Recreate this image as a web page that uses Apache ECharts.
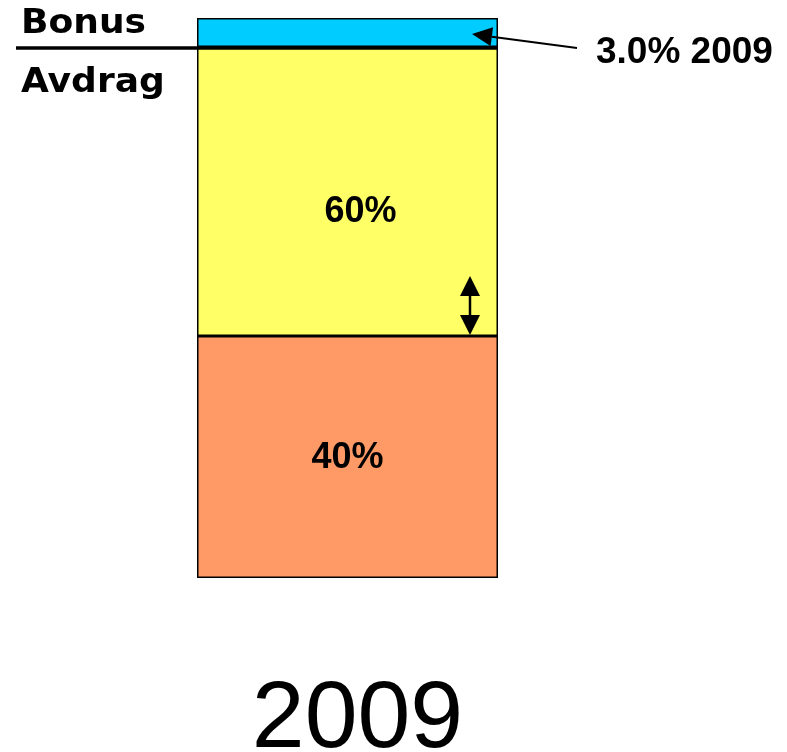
<!DOCTYPE html>
<html>
<head>
<meta charset="utf-8">
<script src="https://cdn.jsdelivr.net/npm/echarts@6/dist/echarts.min.js"></script>
<style>
html,body{margin:0;padding:0;background:#fff;}
#c{width:787px;height:752px;}
</style>
</head>
<body>
<div id="c"></div>
<script>
// Data (segment heights as drawn in the schematic bar, bottom to top)
const categories = ['2009'];
const segmentNames = ['Fast', 'Avdrag', 'Bonus'];
const segmentValues = [40, 47.8, 4.8];
const segmentLabels = ['40%', '60%', ''];
const segmentColors = ['#FF9966', '#FFFF66', '#00CCFF'];
const bonusNote = '3.0% 2009';
const leftLabelTop = 'Bonus';
const leftLabelBottom = 'Avdrag';

const total = segmentValues.reduce((a, b) => a + b, 0);
const gridLeft = 197, gridRight = 289, gridTop = 18, gridBottom = 174;

const chart = echarts.init(document.getElementById('c'), null, {renderer: 'canvas'});

const series = segmentValues.map((v, i) => ({
  name: segmentNames[i],
  type: 'bar',
  stack: 'total',
  barWidth: '100%',
  data: [v],
  itemStyle: {color: segmentColors[i], borderColor: '#000', borderWidth: 1.5},
  label: {
    show: segmentLabels[i] !== '',
    position: 'inside',
    formatter: () => segmentLabels[i],
    color: '#000',
    fontFamily: 'Liberation Sans, Arial, sans-serif',
    fontWeight: 'bold',
    fontSize: 36,
    offset: i === 1 ? [13, 21] : [0, 1]
  },
  emphasis: {disabled: true},
  animation: false
}));

chart.setOption({
  animation: false,
  grid: {left: gridLeft, right: gridRight, top: gridTop, bottom: gridBottom, containLabel: false, outerBoundsMode: 'none'},
  xAxis: {
    type: 'category',
    data: categories,
    axisLine: {show: false},
    axisTick: {show: false},
    axisLabel: {
      show: true,
      margin: 95,
      color: '#000',
      fontFamily: 'Liberation Sans, Arial, sans-serif',
      fontSize: 95,
      padding: [0, 0, 0, 20]
    }
  },
  yAxis: {type: 'value', min: 0, max: total, show: false, splitLine: {show: false}},
  series: series
});

// Annotations positioned from the axis scale
const barRight = 787 - gridRight;
const yBonusBase = chart.convertToPixel({yAxisIndex: 0}, segmentValues[0] + segmentValues[1]);
const yBonusMid = chart.convertToPixel({yAxisIndex: 0}, segmentValues[0] + segmentValues[1] + segmentValues[2] / 2);
const ySplit = chart.convertToPixel({yAxisIndex: 0}, segmentValues[0]);

// arrow from note to bonus segment
const tail = [barRight + 79, yBonusBase + 1];
const tip = [barRight - 26, yBonusMid + 1.5];
const dx = tip[0] - tail[0], dy = tip[1] - tail[1];
const len = Math.sqrt(dx * dx + dy * dy);
const ux = dx / len, uy = dy / len;
const headLen = 20, headHalf = 9.5;
const base = [tip[0] - ux * headLen, tip[1] - uy * headLen];
const head = [tip, [base[0] - uy * headHalf, base[1] + ux * headHalf], [base[0] + uy * headHalf, base[1] - ux * headHalf]];

// double arrow at split
const ax = barRight - 28;
const aTop = ySplit - 60;
const dbl = [
  {type: 'line', shape: {x1: ax, y1: aTop + 15, x2: ax, y2: ySplit - 15}, style: {stroke: '#000', lineWidth: 2.5}},
  {type: 'polygon', shape: {points: [[ax, aTop], [ax - 10, aTop + 20], [ax + 10, aTop + 20]]}, style: {fill: '#000'}},
  {type: 'polygon', shape: {points: [[ax, ySplit - 1], [ax - 10, ySplit - 21], [ax + 10, ySplit - 21]]}, style: {fill: '#000'}}
];

const txtFont = 'bold 34px "DejaVu Sans", Verdana, sans-serif';
chart.setOption({
  graphic: [
    {type: 'line', z: 10, shape: {x1: 16, y1: yBonusBase + 1, x2: barRight, y2: yBonusBase + 1}, style: {stroke: '#000', lineWidth: 3.5}},
    {type: 'text', z: 10, x: 21, y: yBonusBase - 23, scaleX: 1.06, style: {text: leftLabelTop, x: 0, y: 0, font: txtFont, fill: '#000', textAlign: 'left', textVerticalAlign: 'middle', align: 'left', verticalAlign: 'middle'}},
    {type: 'text', z: 10, x: 21, y: yBonusBase + 36, scaleX: 1.06, style: {text: leftLabelBottom, x: 0, y: 0, font: txtFont, fill: '#000', textAlign: 'left', textVerticalAlign: 'middle', align: 'left', verticalAlign: 'middle'}},
    {type: 'line', z: 10, shape: {x1: tail[0], y1: tail[1], x2: base[0], y2: base[1]}, style: {stroke: '#000', lineWidth: 2}},
    {type: 'polygon', z: 10, shape: {points: head}, style: {fill: '#000'}},
    {type: 'text', z: 10, style: {text: bonusNote, x: barRight + 98, y: yBonusBase + 6, font: 'bold 37px "Liberation Sans", Arial, sans-serif', fill: '#000', textAlign: 'left', textVerticalAlign: 'middle', align: 'left', verticalAlign: 'middle'}}
  ].concat(dbl.map(d => Object.assign({z: 10}, d)))
});
</script>
</body>
</html>
